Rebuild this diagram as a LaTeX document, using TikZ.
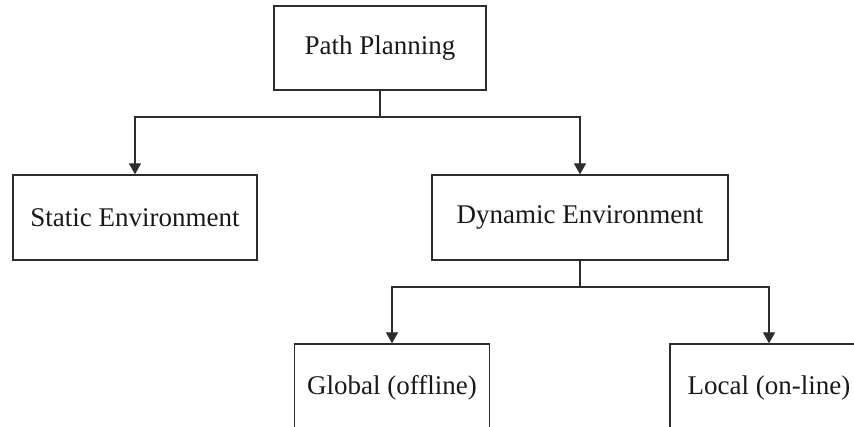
\documentclass[tikz,border=0pt]{standalone}
\usepackage{fontspec}
\setmainfont{Liberation Serif}
\usepackage{tikz}
\usetikzlibrary{arrows.meta, positioning}
\definecolor{cLine}{RGB}{45,45,45}
\tikzset{
	box/.style     ={rectangle, draw=cLine, line width=1.3pt, minimum height=85pt, inner sep=0pt, align=center, text=black!90},
	treearrow/.style={-{Triangle[length=11pt, width=12pt]}, line width=1.3pt, draw=cLine},
	treeline/.style ={line width=1.3pt, draw=cLine},
}
\begin{document}
\begin{tikzpicture}[x=1pt, y=1pt, font=\fontsize{27}{30}\selectfont]
	\useasboundingbox (0,0) rectangle (854,427);
	\node[box, minimum width=212pt, minimum height=84pt] (plan) at (380,379) {Path Planning};
	\node[box, minimum width=244pt] (static)  at (135,209.5) {Static Environment};
	\node[box, minimum width=296pt] (dynamic) at (580,209.5) {Dynamic Environment};
	\node[box, minimum width=195pt, minimum height=88pt] (global) at (392,39) {Global (offline)};
	\node[box, minimum width=198pt, minimum height=88pt] (local)  at (769,39) {Local (on-line)};
	% junctions
	\coordinate (j1) at (380,310);
	\coordinate (j2) at (580,140);
	\draw[treeline]  (plan.south) -- (j1);
	\draw[treearrow] (j1) -| (static.north);
	\draw[treearrow] (j1) -| (dynamic.north);
	\draw[treeline]  (dynamic.south) -- (j2);
	\draw[treearrow] (j2) -| (global.north);
	\draw[treearrow] (j2) -| (local.north);
\end{tikzpicture}
\end{document}
